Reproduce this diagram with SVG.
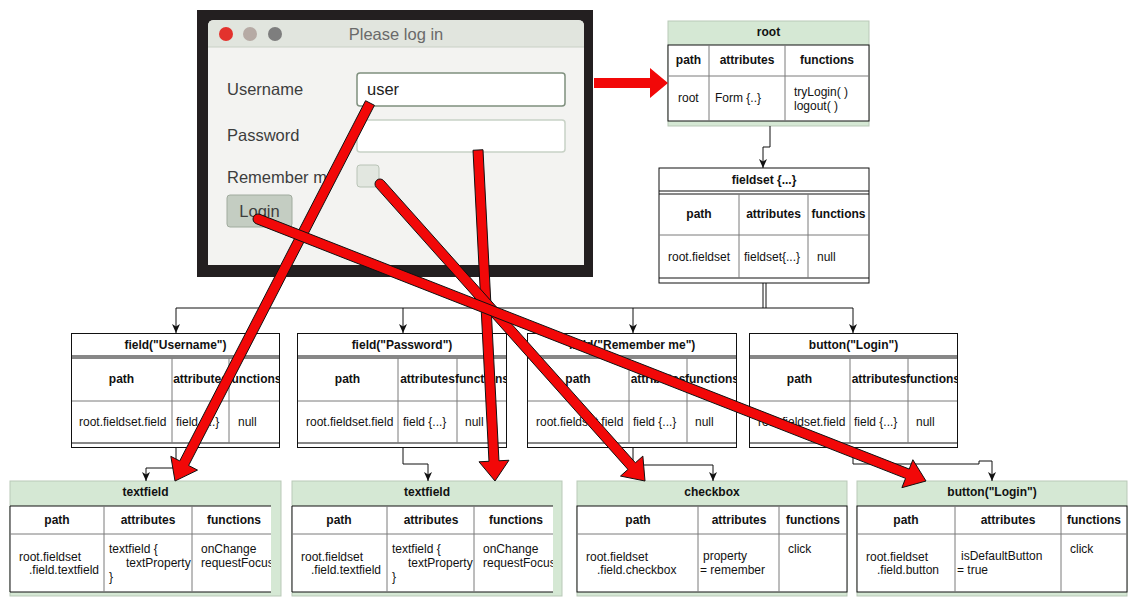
<svg xmlns="http://www.w3.org/2000/svg" width="1138" height="607" viewBox="0 0 1138 607">
<style>
.hd{font-family:"Liberation Sans",Arial,sans-serif;font-size:12px;font-weight:bold;fill:#111;text-anchor:middle}
.tx{font-family:"Liberation Sans",Arial,sans-serif;font-size:12px;fill:#111}
.ui{font-family:"Liberation Sans",Arial,sans-serif;font-size:16.5px;fill:#3d3d3d}
.bx{fill:#fff;stroke:#111;stroke-width:1}
.bl{stroke:#111;stroke-width:1;fill:none}
.gl{stroke:#7a7a7a;stroke-width:1;fill:none}
.gr{fill:#d5e8d4;stroke:#b9c9b8;stroke-width:1}
.cn{stroke:#111;stroke-width:1;fill:none}
.ra{fill:#f20808;stroke:#111;stroke-width:1;stroke-linejoin:miter}
</style>
<defs>
<marker id="ah" markerWidth="10" markerHeight="10" refX="9" refY="4.5" orient="auto" markerUnits="userSpaceOnUse"><path d="M0,0.5 L9,4.5 L0,8.5 L2.5,4.5 Z" fill="#111"/></marker>
<clipPath id="c-user"><rect x="71" y="333" width="209" height="115"/></clipPath>
<clipPath id="c-pass"><rect x="297" y="333" width="210" height="115"/></clipPath>
<clipPath id="c-rem"><rect x="527" y="333" width="210" height="115"/></clipPath>
<clipPath id="c-login"><rect x="749" y="333" width="209" height="115"/></clipPath>
<clipPath id="c-tf1"><rect x="10" y="481" width="261" height="115"/></clipPath>
<clipPath id="c-tf2"><rect x="292" y="481" width="261" height="115"/></clipPath>
</defs>
<rect width="1138" height="607" fill="#fff"/>

<g id="login-window">
<rect x="197" y="10" width="396" height="267" fill="#231f20"/>
<path d="M208,26 Q208,20 214,20 H578 Q584,20 584,26 V265 H208 Z" fill="#f3f3f1"/>
<path d="M208,26 Q208,20 214,20 H578 Q584,20 584,26 V47 H208 Z" fill="#e1e5de"/>
<line x1="208" y1="47" x2="584" y2="47" stroke="#c9d0c6"/>
<circle cx="226" cy="34" r="7" fill="#e3322d"/>
<circle cx="250" cy="34" r="7" fill="#b6aaa4"/>
<circle cx="275" cy="34" r="7" fill="#7e7e7e"/>
<text x="396" y="40" class="ui" style="fill:#6a6a6a;text-anchor:middle">Please log in</text>
<text x="227" y="95" class="ui">Username</text>
<text x="227" y="141" class="ui">Password</text>
<text x="227" y="183" class="ui">Remember me</text>
<rect x="357" y="73" width="208" height="33" rx="3" fill="#fff" stroke="#7f907e" stroke-width="1.5"/>
<text x="367" y="95" class="ui" style="fill:#222">user</text>
<rect x="357" y="120" width="208" height="32" rx="3" fill="#fff" stroke="#c8d2c6" stroke-width="1.5"/>
<rect x="357" y="165" width="22" height="22" rx="3" fill="#e2e7e0" stroke="#b8c3b6"/>
<rect x="227" y="195" width="65" height="32" rx="3" fill="#c4cdc2" stroke="#a0ab9e"/>
<text x="259.5" y="217" class="ui" style="text-anchor:middle">Login</text>
</g>

<g id="root">
<rect class="gr" x="668" y="21" width="201" height="105"/>
<text class="hd" x="768.5" y="36">root</text>
<rect class="bx" x="668" y="45" width="201" height="76"/>
<line class="gl" x1="668" y1="76" x2="869" y2="76"/>
<line class="gl" x1="709" y1="45" x2="709" y2="121"/>
<line class="gl" x1="785" y1="45" x2="785" y2="121"/>
<text class="hd" x="688.5" y="64">path</text>
<text class="hd" x="747" y="64">attributes</text>
<text class="hd" x="827" y="64">functions</text>
<text class="tx" x="678" y="102">root</text>
<text class="tx" x="715" y="102">Form {..}</text>
<text class="tx" x="794" y="96">tryLogin( )</text>
<text class="tx" x="794" y="110">logout( )</text>
</g>

<g id="fieldset">
<rect class="bx" x="659" y="168" width="210" height="115"/>
<line class="bl" x1="659" y1="191" x2="869" y2="191"/>
<line class="bl" x1="659" y1="194" x2="869" y2="194"/>
<line class="gl" x1="659" y1="235" x2="869" y2="235"/>
<line class="bl" x1="659" y1="278" x2="869" y2="278"/>
<line class="gl" x1="739" y1="194" x2="739" y2="278"/>
<line class="gl" x1="808" y1="194" x2="808" y2="278"/>
<text class="hd" x="764" y="184">fieldset {...}</text>
<text class="hd" x="699" y="218">path</text>
<text class="hd" x="773.5" y="218">attributes</text>
<text class="hd" x="838.5" y="218">functions</text>
<text class="tx" x="668" y="261">root.fieldset</text>
<text class="tx" x="744" y="261">fieldset{...}</text>
<text class="tx" x="817" y="261">null</text>
</g>

<g id="field-username" clip-path="url(#c-user)">
<rect class="bx" x="71" y="333" width="209" height="115"/>
<line class="bl" x1="71" y1="356" x2="280" y2="356"/>
<line class="bl" x1="71" y1="358" x2="280" y2="358"/>
<line class="gl" x1="71" y1="401" x2="280" y2="401"/>
<line class="bl" x1="71" y1="443" x2="280" y2="443"/>
<line class="gl" x1="172" y1="358" x2="172" y2="443"/>
<line class="gl" x1="229" y1="358" x2="229" y2="443"/>
<rect x="71" y="333" width="209" height="115" fill="none" stroke="#111" stroke-width="2"/>
<text class="hd" x="175.5" y="349">field("Username")</text>
<text class="hd" x="121.5" y="383">path</text>
<text class="hd" x="200.5" y="383">attributes</text>
<text class="hd" x="254.5" y="383">functions</text>
<text class="tx" x="79" y="426">root.fieldset.field</text>
<text class="tx" x="176" y="426">field {...}</text>
<text class="tx" x="238" y="426">null</text>
</g>

<g id="field-password" clip-path="url(#c-pass)">
<rect class="bx" x="297" y="333" width="210" height="115"/>
<line class="bl" x1="297" y1="356" x2="507" y2="356"/>
<line class="bl" x1="297" y1="358" x2="507" y2="358"/>
<line class="gl" x1="297" y1="401" x2="507" y2="401"/>
<line class="bl" x1="297" y1="443" x2="507" y2="443"/>
<line class="gl" x1="398" y1="358" x2="398" y2="443"/>
<line class="gl" x1="457" y1="358" x2="457" y2="443"/>
<rect x="297" y="333" width="210" height="115" fill="none" stroke="#111" stroke-width="2"/>
<text class="hd" x="402" y="349">field("Password")</text>
<text class="hd" x="347.5" y="383">path</text>
<text class="hd" x="427.5" y="383">attributes</text>
<text class="hd" x="482" y="383">functions</text>
<text class="tx" x="306" y="426">root.fieldset.field</text>
<text class="tx" x="403" y="426">field {...}</text>
<text class="tx" x="465" y="426">null</text>
</g>

<g id="field-remember" clip-path="url(#c-rem)">
<rect class="bx" x="527" y="333" width="210" height="115"/>
<line class="bl" x1="527" y1="356" x2="737" y2="356"/>
<line class="bl" x1="527" y1="358" x2="737" y2="358"/>
<line class="gl" x1="527" y1="401" x2="737" y2="401"/>
<line class="bl" x1="527" y1="443" x2="737" y2="443"/>
<line class="gl" x1="629" y1="358" x2="629" y2="443"/>
<line class="gl" x1="687" y1="358" x2="687" y2="443"/>
<rect x="527" y="333" width="210" height="115" fill="none" stroke="#111" stroke-width="2"/>
<text class="hd" x="632" y="349">field("Remember me")</text>
<text class="hd" x="578" y="383">path</text>
<text class="hd" x="658" y="383">attributes</text>
<text class="hd" x="712" y="383">functions</text>
<text class="tx" x="536" y="426">root.fieldset.field</text>
<text class="tx" x="633" y="426">field {...}</text>
<text class="tx" x="695" y="426">null</text>
</g>

<g id="field-login" clip-path="url(#c-login)">
<rect class="bx" x="749" y="333" width="209" height="115"/>
<line class="bl" x1="749" y1="356" x2="958" y2="356"/>
<line class="bl" x1="749" y1="358" x2="958" y2="358"/>
<line class="gl" x1="749" y1="401" x2="958" y2="401"/>
<line class="bl" x1="749" y1="443" x2="958" y2="443"/>
<line class="gl" x1="850" y1="358" x2="850" y2="443"/>
<line class="gl" x1="908" y1="358" x2="908" y2="443"/>
<rect x="749" y="333" width="209" height="115" fill="none" stroke="#111" stroke-width="2"/>
<text class="hd" x="853.5" y="349">button("Login")</text>
<text class="hd" x="799.5" y="383">path</text>
<text class="hd" x="879" y="383">attributes</text>
<text class="hd" x="933" y="383">functions</text>
<text class="tx" x="758" y="426">root.fieldset.field</text>
<text class="tx" x="854" y="426">field {...}</text>
<text class="tx" x="916" y="426">null</text>
</g>

<g id="textfield-username">
<rect class="gr" x="10" y="481" width="271" height="115"/>
<text class="hd" x="145.5" y="496">textfield</text>
<rect x="10" y="506" width="261" height="86" fill="#fff"/>
<line class="bl" x1="10" y1="506" x2="271" y2="506"/>
<line class="bl" x1="10" y1="592" x2="271" y2="592"/>
<line class="bl" x1="10" y1="506" x2="10" y2="592"/>
<line class="gl" x1="10" y1="534" x2="271" y2="534"/>
<line class="gl" x1="104" y1="506" x2="104" y2="592"/>
<line class="gl" x1="192" y1="506" x2="192" y2="592"/>
<g clip-path="url(#c-tf1)">
<text class="hd" x="57" y="524">path</text>
<text class="hd" x="148" y="524">attributes</text>
<text class="hd" x="234" y="524">functions</text>
<text class="tx" x="19" y="561">root.fieldset</text>
<text class="tx" x="29" y="574">.field.textfield</text>
<text class="tx" x="109" y="553">textfield {</text>
<text class="tx" x="126" y="567">textProperty</text>
<text class="tx" x="109" y="581">}</text>
<text class="tx" x="201" y="553">onChange</text>
<text class="tx" x="201" y="567">requestFocus</text>
</g>
</g>

<g id="textfield-password">
<rect class="gr" x="292" y="481" width="270" height="115"/>
<text class="hd" x="427" y="496">textfield</text>
<rect x="292" y="506" width="261" height="86" fill="#fff"/>
<line class="bl" x1="292" y1="506" x2="553" y2="506"/>
<line class="bl" x1="292" y1="592" x2="553" y2="592"/>
<line class="bl" x1="292" y1="506" x2="292" y2="592"/>
<line class="gl" x1="292" y1="534" x2="553" y2="534"/>
<line class="gl" x1="387" y1="506" x2="387" y2="592"/>
<line class="gl" x1="474" y1="506" x2="474" y2="592"/>
<g clip-path="url(#c-tf2)">
<text class="hd" x="339" y="524">path</text>
<text class="hd" x="431" y="524">attributes</text>
<text class="hd" x="516" y="524">functions</text>
<text class="tx" x="301" y="561">root.fieldset</text>
<text class="tx" x="311" y="574">.field.textfield</text>
<text class="tx" x="392" y="553">textfield {</text>
<text class="tx" x="408" y="567">textProperty</text>
<text class="tx" x="392" y="581">}</text>
<text class="tx" x="483" y="553">onChange</text>
<text class="tx" x="483" y="567">requestFocus</text>
</g>
</g>

<g id="checkbox">
<rect class="gr" x="577" y="481" width="270" height="115"/>
<text class="hd" x="712" y="496">checkbox</text>
<rect class="bx" x="577" y="506" width="270" height="86"/>
<line class="gl" x1="577" y1="534" x2="847" y2="534"/>
<line class="gl" x1="698" y1="506" x2="698" y2="592"/>
<line class="gl" x1="779" y1="506" x2="779" y2="592"/>
<text class="hd" x="638" y="524">path</text>
<text class="hd" x="739" y="524">attributes</text>
<text class="hd" x="813" y="524">functions</text>
<text class="tx" x="586" y="561">root.fieldset</text>
<text class="tx" x="597" y="574">.field.checkbox</text>
<text class="tx" x="703" y="560">property</text>
<text class="tx" x="700" y="574">= remember</text>
<text class="tx" x="788" y="553">click</text>
</g>

<g id="button-login">
<rect class="gr" x="857" y="481" width="270" height="115"/>
<text class="hd" x="992" y="496">button("Login")</text>
<rect class="bx" x="857" y="506" width="270" height="86"/>
<line class="gl" x1="857" y1="534" x2="1127" y2="534"/>
<line class="gl" x1="955" y1="506" x2="955" y2="592"/>
<line class="gl" x1="1061" y1="506" x2="1061" y2="592"/>
<text class="hd" x="906" y="524">path</text>
<text class="hd" x="1008" y="524">attributes</text>
<text class="hd" x="1094" y="524">functions</text>
<text class="tx" x="866" y="561">root.fieldset</text>
<text class="tx" x="877" y="574">.field.button</text>
<text class="tx" x="961" y="560">isDefaultButton</text>
<text class="tx" x="957" y="574">= true</text>
<text class="tx" x="1070" y="553">click</text>
</g>

<g id="connectors">
<path class="cn" d="M770,126 V147 H763 V168" marker-end="url(#ah)"/>
<line class="cn" x1="763" y1="283" x2="763" y2="308"/>
<line class="cn" x1="766" y1="283" x2="766" y2="308"/>
<line class="cn" x1="176" y1="308" x2="853" y2="308"/>
<path class="cn" d="M176,308 V333" marker-end="url(#ah)"/>
<path class="cn" d="M403,308 V333" marker-end="url(#ah)"/>
<path class="cn" d="M633,308 V333" marker-end="url(#ah)"/>
<path class="cn" d="M853,308 V333" marker-end="url(#ah)"/>
<path class="cn" d="M176,448 V468 H146 V481" marker-end="url(#ah)"/>
<path class="cn" d="M403,448 V464 H428 V481" marker-end="url(#ah)"/>
<path class="cn" d="M633,448 V465 H713 V481" marker-end="url(#ah)"/>
<path class="cn" d="M853,448 V464 H979 V461 H992 V481" marker-end="url(#ah)"/>
</g>

<g id="red-arrows">
<path class="ra" style="stroke:none" d="M594,78 H650 V68 L668,83 L650,98 V88 H594 Z"/>
<path class="ra" d="M365.56,100.71 L179.73,460.93 L170.84,456.34 L175,481 L197.5,470.1 L188.61,465.51 L374.44,105.29 Z"/>
<path class="ra" d="M473.01,150.26 L488.98,461.29 L478.99,461.8 L495,481 L508.95,460.26 L498.96,460.77 L482.99,149.74 Z"/>
<path class="ra" d="M376.27,187.33 L627.95,469.41 L620.49,476.07 L645,481 L642.87,456.09 L635.41,462.75 L383.73,180.67 A5,5 0 0 0 376.27,187.33 Z"/>
<path class="ra" d="M256.17,223.66 L905.55,478.36 L901.9,487.67 L926,481 L912.86,459.74 L909.21,469.05 L259.83,214.34 A5,5 0 0 0 256.17,223.66 Z"/>
</g>
</svg>
